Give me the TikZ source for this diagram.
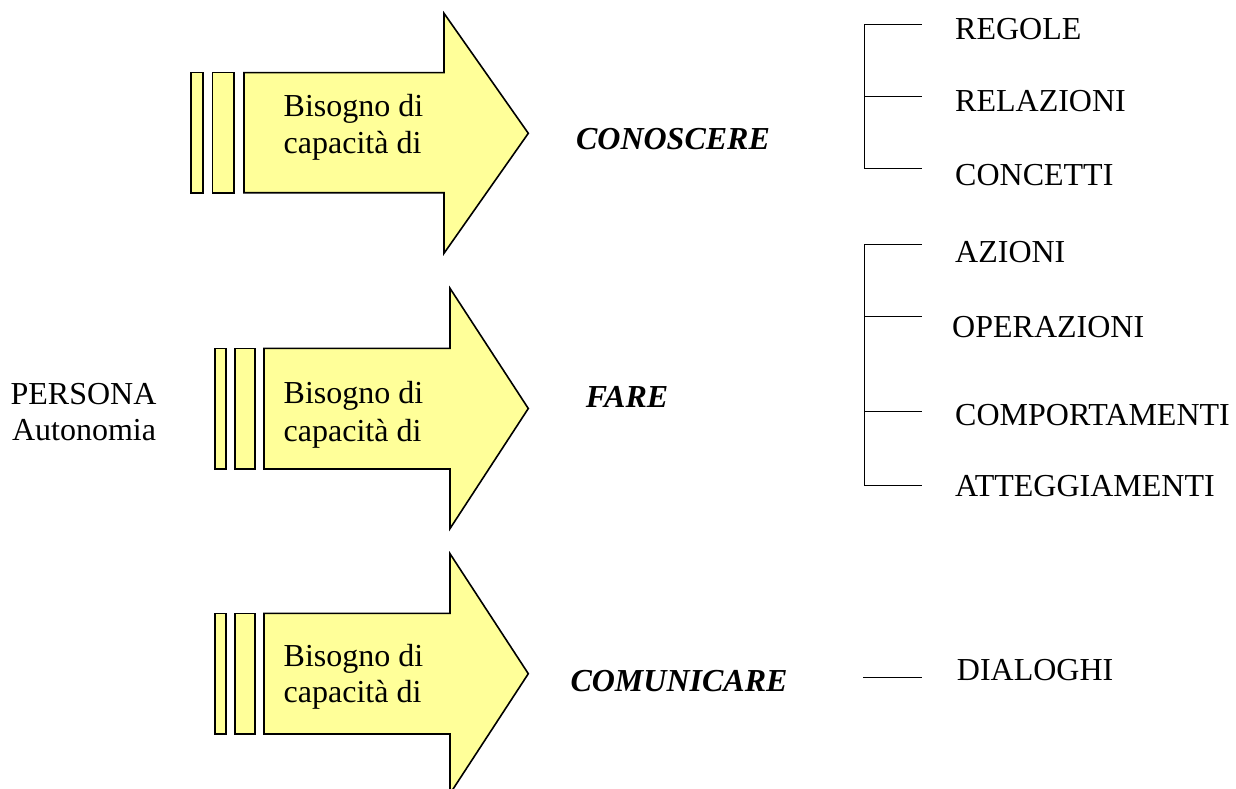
\documentclass[tikz,border=0pt]{standalone}
\usepackage{fontspec}
\setmainfont{Liberation Serif}
\definecolor{arrowfill}{HTML}{FFFF99}
\begin{document}
\begin{tikzpicture}[x=1pt,y=-1pt,
  arrowshape/.style={draw=black,fill=arrowfill,line width=1.6pt,line join=miter},
  brk/.style={draw=black,line width=1pt},
  lbl/.style={inner sep=0pt,anchor=base west,font=\fontsize{32}{37}\selectfont},
  ctr/.style={inner sep=0pt,anchor=base,font=\fontsize{32}{37}\selectfont},
  verb/.style={inner sep=0pt,anchor=base,font=\fontsize{32}{37}\selectfont\bfseries\itshape}]
\useasboundingbox (0,0) rectangle (1236,789);
% Arrow 1
\draw[arrowshape] (191,72.7) rectangle (202.7,192.7);
\draw[arrowshape] (212.3,72.7) rectangle (234,192.7);
\draw[arrowshape] (244,72.7) -- (444,72.7) -- (444,13.3) -- (528.3,133.3) -- (444,253.3) -- (444,192.7) -- (244,192.7) -- cycle;
% Arrow 2
\draw[arrowshape] (215,348.3) rectangle (226,469);
\draw[arrowshape] (235,348.3) rectangle (255,469);
\draw[arrowshape] (264,348.3) -- (450,348.3) -- (450,288.3) -- (528.3,408.5) -- (450,528.6) -- (450,469) -- (264,469) -- cycle;
% Arrow 3
\draw[arrowshape] (215,613.3) rectangle (226,734);
\draw[arrowshape] (235,613.3) rectangle (255,734);
\draw[arrowshape] (264,613.3) -- (450,613.3) -- (450,553.7) -- (528.3,673.7) -- (450,793.7) -- (450,734) -- (264,734) -- cycle;
% Arrow texts
\node[lbl] (t1a) at (283.5,116.7) {Bisogno di};
\node[lbl] (t1b) at (283.5,153.3) {capacità di};
\node[lbl] (t2a) at (283.5,403.3) {Bisogno di};
\node[lbl] (t2b) at (283.5,441) {capacità di};
\node[lbl] (t3a) at (283.5,666.7) {Bisogno di};
\node[lbl] (t3b) at (283.5,702.7) {capacità di};
% Left label
\node[ctr] (persona) at (83.5,404) {PERSONA};
\node[ctr] (autonomia) at (84,440) {Autonomia};
% Verbs
\node[verb] (conoscere) at (673,149.3) {CONOSCERE};
\node[verb] (fare) at (627,407.3) {FARE};
\node[verb] (comunicare) at (679,691.7) {COMUNICARE};
% Bracket 1
\coordinate (b1top) at (864,24.3);
\coordinate (b1mid) at (864,96.7);
\coordinate (b1bot) at (864,168.3);
\draw[brk] (921.7,24.3) -- (b1top) -- (b1bot) -- (921.7,168.3);
\draw[brk] (b1mid) -- (921.7,96.7);
\node[lbl] (regole) at (955,40) {REGOLE};
\node[lbl] (relazioni) at (955,111.7) {RELAZIONI};
\node[lbl] (concetti) at (955,185) {CONCETTI};
% Bracket 2
\coordinate (b2top) at (864,244);
\coordinate (b2a) at (864,316);
\coordinate (b2b) at (864,411.7);
\coordinate (b2bot) at (864,485);
\draw[brk] (921.7,244) -- (b2top) -- (b2bot) -- (921.7,485);
\draw[brk] (b2a) -- (921.7,316);
\draw[brk] (b2b) -- (921.7,411.7);
\node[lbl] (azioni) at (955,262.3) {AZIONI};
\node[lbl] (operazioni) at (952,337.3) {OPERAZIONI};
\node[lbl] (comportamenti) at (955,425) {COMPORTAMENTI};
\node[lbl] (atteggiamenti) at (955,496.7) {ATTEGGIAMENTI};
% Dialoghi
\coordinate (b3) at (863.3,677.3);
\draw[brk] (b3) -- (921.7,677.3);
\node[lbl] (dialoghi) at (956.7,680.7) {DIALOGHI};
\end{tikzpicture}
\end{document}
